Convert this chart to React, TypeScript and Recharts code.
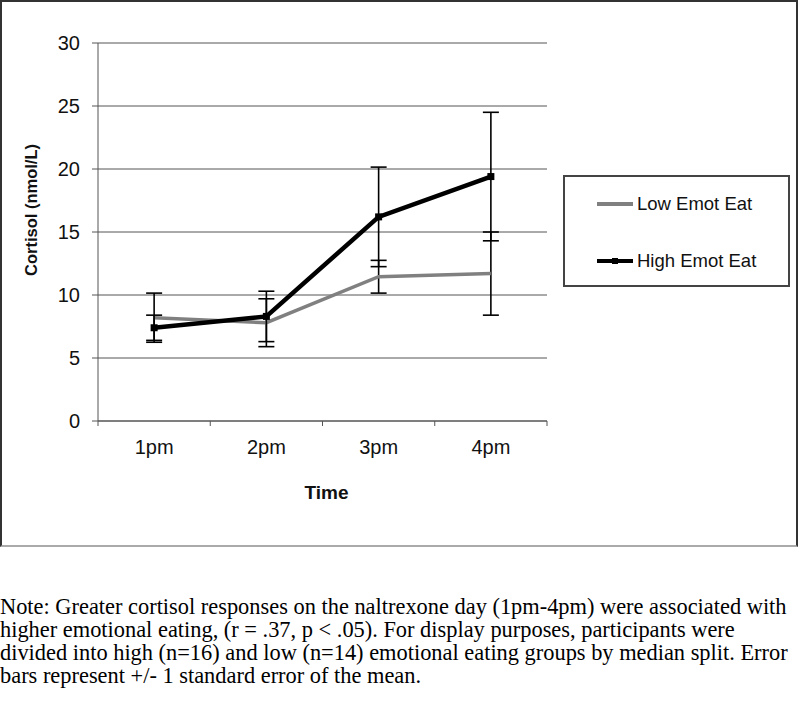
import { CartesianGrid, ErrorBar, Legend, Line, LineChart, XAxis, YAxis } from "recharts";

const categories = ["1pm", "2pm", "3pm", "4pm"];
const lowEmot = [8.2, 7.8, 11.45, 11.7];
const lowEmotErr = [1.95, 1.9, 1.3, 3.3];
const highEmot = [7.4, 8.3, 16.2, 19.4];
const highEmotErr = [1.0, 2.0, 3.95, 5.1];
const yTicks = [0, 5, 10, 15, 20, 25, 30];
const xTicks = [0.5, 1, 1.5, 2, 2.5, 3, 3.5, 4, 4.5];
const seriesOrder = ["low", "high"];

const noteLines = [
  "Note: Greater cortisol responses on the naltrexone day (1pm-4pm) were associated with",
  "higher emotional eating, (r = .37, p < .05). For display purposes, participants were",
  "divided into high (n=16) and low (n=14) emotional eating groups by median split. Error",
  "bars represent +/- 1 standard error of the mean.",
];

const data = categories.map((time, i) => ({
  idx: i + 1,
  time,
  low: lowEmot[i],
  lowErr: lowEmotErr[i],
  high: highEmot[i],
  highErr: highEmotErr[i],
}));

const FONT = "'Liberation Sans', Arial, sans-serif";

const XTick = (props: any) => {
  const { x, y, payload } = props;
  const v = payload.value;
  if (Number.isInteger(v)) {
    return (
      <text x={x} y={y + 33} textAnchor="middle" fontSize={20} fontFamily={FONT} fill="#111">
        {categories[v - 1]}
      </text>
    );
  }
  return <line x1={x} y1={y} x2={x} y2={y + 5} stroke="#555" strokeWidth={1} />;
};

const SquareDot = (props: any) => {
  const { cx, cy } = props;
  if (cx == null || cy == null) return null;
  return <rect x={cx - 3.5} y={cy - 3.5} width={7} height={7} fill="#000" />;
};

const LegendBox = (props: any) => {
  const payload = [...(props.payload ?? [])].sort(
    (a: any, b: any) => seriesOrder.indexOf(a.dataKey) - seriesOrder.indexOf(b.dataKey),
  );
  return (
    <div
      style={{
        boxSizing: "border-box",
        width: 227,
        height: 112,
        border: "2px solid #444",
        background: "#fff",
        paddingTop: 13,
        fontFamily: FONT,
      }}
    >
      {payload.map((entry: any) => (
        <div
          key={entry.value}
          style={{ display: "flex", alignItems: "center", height: 28, marginBottom: 29, marginLeft: 32 }}
        >
          <svg width={36} height={10}>
            <line x1={0} y1={5} x2={36} y2={5} stroke={entry.color} strokeWidth={4} />
            {entry.dataKey === "high" && <rect x={15} y={2} width={6} height={6} fill="#000" />}
          </svg>
          <span style={{ marginLeft: 4, fontSize: 18.5, color: "#111" }}>{entry.value}</span>
        </div>
      ))}
    </div>
  );
};

export default function App() {
  return (
    <div style={{ position: "absolute", left: 0, top: 0, width: 800, height: 702, background: "#fff" }}>
      <div
        style={{
          position: "absolute",
          left: 0,
          top: 0,
          width: 798,
          height: 547,
          boxSizing: "border-box",
          borderTop: "2px solid #333",
          borderLeft: "2px solid #333",
          borderRight: "2px solid #333",
          borderBottom: "2px solid #aaa",
        }}
      />
      <div style={{ position: "absolute", left: 0, top: 0 }}>
        <LineChart width={800} height={546} data={data} margin={{ top: 43, right: 253, bottom: 45, left: 0 }}>
          <CartesianGrid vertical={false} stroke="#555" strokeWidth={1} />
          <XAxis
            dataKey="idx"
            type="number"
            domain={[0.5, 4.5]}
            ticks={xTicks}
            interval={0}
            height={80}
            tickSize={0}
            tickMargin={0}
            tickLine={false}
            stroke="#555"
            tick={<XTick />}
            label={{
              value: "Time",
              position: "insideBottom",
              offset: 2,
              dx: 4,
              fontSize: 19,
              fontWeight: "bold",
              fontFamily: FONT,
              fill: "#111",
            }}
          />
          <YAxis
            width={98}
            domain={[0, 30]}
            ticks={yTicks}
            interval={0}
            tickSize={6}
            tickMargin={12}
            stroke="#555"
            tick={{ fontSize: 20, fontFamily: FONT, fill: "#111" }}
            label={{
              content: () => (
                <text
                  transform="translate(37, 210) rotate(-90)"
                  textAnchor="middle"
                  fontSize={16.5}
                  fontWeight="bold"
                  fontFamily={FONT}
                  fill="#111"
                >
                  Cortisol (nmol/L)
                </text>
              ),
            }}
          />
          <Legend
            content={<LegendBox />}
            layout="horizontal"
            verticalAlign="middle"
            align="center"
            wrapperStyle={{ left: 563, top: 175, width: 227, height: 112 }}
          />
          <Line
            dataKey="low"
            name="Low Emot Eat"
            stroke="#808080"
            strokeWidth={3.5}
            dot={false}
            activeDot={false}
            isAnimationActive={false}
          >
            <ErrorBar dataKey="lowErr" width={8} stroke="#000" strokeWidth={1.6} direction="y" isAnimationActive={false} />
          </Line>
          <Line
            dataKey="high"
            name="High Emot Eat"
            stroke="#000"
            strokeWidth={4.5}
            dot={<SquareDot />}
            activeDot={false}
            isAnimationActive={false}
          >
            <ErrorBar dataKey="highErr" width={8} stroke="#000" strokeWidth={1.6} direction="y" isAnimationActive={false} />
          </Line>
        </LineChart>
      </div>
      <div
        style={{
          position: "absolute",
          left: 0,
          top: 595,
          fontFamily: "'Liberation Serif', 'Times New Roman', serif",
          fontSize: 22.4,
          lineHeight: "23px",
          color: "#000",
          whiteSpace: "nowrap",
        }}
      >
        {noteLines.map((line) => (
          <div key={line}>{line}</div>
        ))}
      </div>
    </div>
  );
}
